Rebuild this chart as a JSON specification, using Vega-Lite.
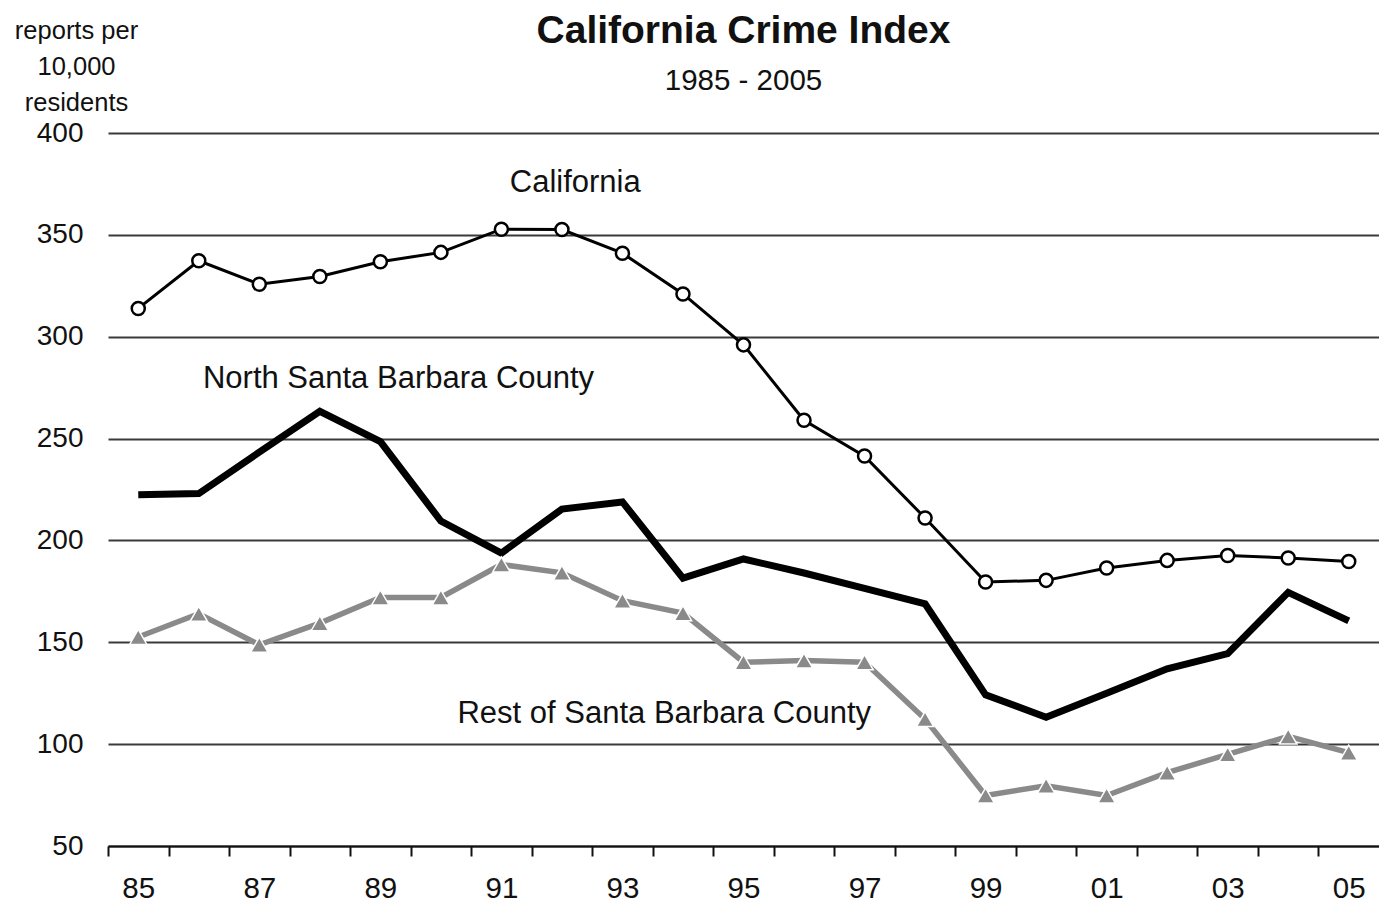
{
  "$schema": "https://vega.github.io/schema/vega-lite/v6.json",
  "width": 1271,
  "height": 713,
  "autosize": {"type": "none"},
  "padding": {"left": 108, "top": 133, "right": 0, "bottom": 61},
  "background": "white",
  "config": {
    "view": {"stroke": null},
    "font": "Liberation Sans",
    "text": {"font": "Liberation Sans"}
  },
  "title": {
    "text": "California Crime Index",
    "subtitle": "1985 - 2005",
    "anchor": "middle",
    "frame": "group",
    "font": "Liberation Sans",
    "fontSize": 39,
    "fontWeight": "bold",
    "color": "#111111",
    "subtitleFont": "Liberation Sans",
    "subtitleFontSize": 29.5,
    "subtitleColor": "#111111",
    "subtitlePadding": 16,
    "offset": -77
  },
  "datasets": {
    "california": [
      {"year": 1985, "value": 313.9}, {"year": 1986, "value": 337.3}, {"year": 1987, "value": 325.8},
      {"year": 1988, "value": 329.6}, {"year": 1989, "value": 336.8}, {"year": 1990, "value": 341.4},
      {"year": 1991, "value": 352.8}, {"year": 1992, "value": 352.6}, {"year": 1993, "value": 341.0},
      {"year": 1994, "value": 321.0}, {"year": 1995, "value": 296.0}, {"year": 1996, "value": 259.0},
      {"year": 1997, "value": 241.4}, {"year": 1998, "value": 211.0}, {"year": 1999, "value": 179.6},
      {"year": 2000, "value": 180.4}, {"year": 2001, "value": 186.5}, {"year": 2002, "value": 190.2},
      {"year": 2003, "value": 192.6}, {"year": 2004, "value": 191.4}, {"year": 2005, "value": 189.7}
    ],
    "north": [
      {"year": 1985, "value": 222.4}, {"year": 1986, "value": 223.0}, {"year": 1987, "value": 243.3},
      {"year": 1988, "value": 263.4}, {"year": 1989, "value": 248.5}, {"year": 1990, "value": 209.5},
      {"year": 1991, "value": 193.8}, {"year": 1992, "value": 215.4}, {"year": 1993, "value": 218.9},
      {"year": 1994, "value": 181.5}, {"year": 1995, "value": 190.9}, {"year": 1996, "value": 184.0},
      {"year": 1997, "value": 176.5}, {"year": 1998, "value": 168.9}, {"year": 1999, "value": 124.2},
      {"year": 2000, "value": 113.2}, {"year": 2001, "value": 125.0}, {"year": 2002, "value": 137.0},
      {"year": 2003, "value": 144.4}, {"year": 2004, "value": 174.5}, {"year": 2005, "value": 160.5}
    ],
    "rest": [
      {"year": 1985, "value": 152.6}, {"year": 1986, "value": 164.0}, {"year": 1987, "value": 148.8},
      {"year": 1988, "value": 159.4}, {"year": 1989, "value": 172.0}, {"year": 1990, "value": 172.0},
      {"year": 1991, "value": 188.2}, {"year": 1992, "value": 184.1}, {"year": 1993, "value": 170.4},
      {"year": 1994, "value": 164.3}, {"year": 1995, "value": 140.2}, {"year": 1996, "value": 141.0},
      {"year": 1997, "value": 140.2}, {"year": 1998, "value": 112.3}, {"year": 1999, "value": 74.8},
      {"year": 2000, "value": 79.6}, {"year": 2001, "value": 74.8}, {"year": 2002, "value": 86.0},
      {"year": 2003, "value": 95.0}, {"year": 2004, "value": 103.8}, {"year": 2005, "value": 95.8}
    ],
    "labels": [
      {"year": 1992.22, "value": 371.2, "label": "California"},
      {"year": 1989.3, "value": 274.7, "label": "North Santa Barbara County"},
      {"year": 1993.69, "value": 110.2, "label": "Rest of Santa Barbara County"}
    ]
  },
  "encoding": {
    "x": {
      "field": "year",
      "type": "quantitative",
      "scale": {"domain": [1984.5, 2005.5], "nice": false, "zero": false},
      "axis": {
        "title": null,
        "values": [1985, 1986, 1987, 1988, 1989, 1990, 1991, 1992, 1993, 1994, 1995, 1996, 1997, 1998, 1999, 2000, 2001, 2002, 2003, 2004, 2005],
        "tickOffset": -30.27,
        "labelOffset": 30.27,
        "labelExpr": "datum.value % 2 == 1 ? slice(toString(datum.value), 2) : ''",
        "labelFlush": false,
        "labelOverlap": false,
        "labelFont": "Liberation Sans",
        "labelFontSize": 29.5,
        "labelColor": "#111111",
        "labelPadding": 18,
        "tickSize": 10,
        "tickWidth": 2,
        "tickColor": "#111111",
        "domainColor": "#111111",
        "domainWidth": 2,
        "grid": false
      }
    },
    "y": {
      "field": "value",
      "type": "quantitative",
      "scale": {"domain": [50, 400], "nice": false, "zero": false},
      "axis": {
        "title": ["reports per", "10,000", "residents"],
        "titleAngle": 0,
        "titleAlign": "center",
        "titleBaseline": "alphabetic",
        "titleX": -32,
        "titleY": -95,
        "titleFont": "Liberation Sans",
        "titleFontSize": 25.5,
        "titleFontWeight": "normal",
        "titleLineHeight": 36,
        "titleColor": "#111111",
        "values": [50, 100, 150, 200, 250, 300, 350, 400],
        "domain": false,
        "ticks": false,
        "tickSize": 0,
        "labelPadding": 25,
        "labelFont": "Liberation Sans",
        "labelFontSize": 28,
        "labelColor": "#111111",
        "grid": true,
        "gridColor": "#3a3a3a",
        "gridWidth": 2
      }
    }
  },
  "layer": [
    {"data": {"name": "north"}, "mark": {"type": "line", "color": "#000000", "strokeWidth": 7, "strokeJoin": "miter"}},
    {"data": {"name": "rest"}, "mark": {"type": "line", "color": "#8a8a8a", "strokeWidth": 5.5}},
    {"data": {"name": "rest"}, "mark": {"type": "point", "shape": "triangle-up", "filled": true, "fill": "#8a8a8a", "stroke": "#ffffff", "strokeWidth": 1.5, "size": 300, "opacity": 1}},
    {"data": {"name": "california"}, "mark": {"type": "line", "color": "#000000", "strokeWidth": 3}},
    {"data": {"name": "california"}, "mark": {"type": "point", "shape": "circle", "filled": true, "fill": "#ffffff", "stroke": "#000000", "strokeWidth": 2.5, "size": 170, "opacity": 1}},
    {"data": {"name": "labels"}, "mark": {"type": "text", "font": "Liberation Sans", "fontSize": 31, "align": "center", "baseline": "alphabetic", "color": "#111111"}, "encoding": {"text": {"field": "label"}}}
  ]
}
